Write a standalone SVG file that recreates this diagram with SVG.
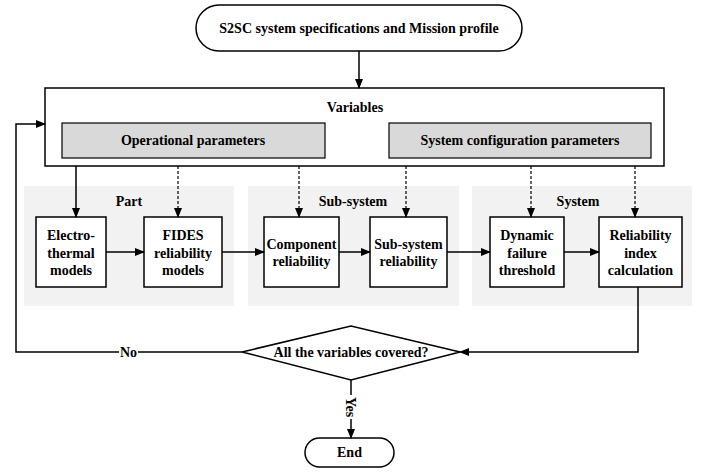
<svg xmlns="http://www.w3.org/2000/svg" width="712" height="472" viewBox="0 0 712 472">
<defs>
<marker id="ah" markerWidth="10" markerHeight="8" refX="9" refY="4" orient="auto" markerUnits="userSpaceOnUse">
<path d="M0,0 L10,4 L0,8 Z" fill="#000"/>
</marker>
<style>
text{font-family:"Liberation Serif","Times New Roman",serif;font-weight:bold;font-size:14px;text-anchor:middle;fill:#000}
.box{fill:#fff;stroke:#000;stroke-width:1.5}
.gray{fill:#d9d9d9;stroke:#000;stroke-width:1.2}
.panel{fill:#f2f2f2;stroke:none}
.ln{fill:none;stroke:#000;stroke-width:1.5}
.arr{fill:none;stroke:#000;stroke-width:1.5;marker-end:url(#ah)}
.dash{fill:none;stroke:#000;stroke-width:1.2;stroke-dasharray:3,2;marker-end:url(#ah)}
</style>
</defs>
<rect width="712" height="472" fill="#fff"/>
<g id="panels">
<rect id="panel-part" class="panel" x="24" y="186" width="210" height="120"/>
<text x="129" y="206">Part</text>
<rect id="panel-subsystem" class="panel" x="248" y="186" width="211" height="120"/>
<text x="353" y="206">Sub-system</text>
<rect id="panel-system" class="panel" x="472" y="186" width="220" height="120"/>
<text x="578" y="206">System</text>
</g>
<g id="start">
<rect class="box" x="196" y="5" width="326" height="46" rx="23" ry="23"/>
<text x="359" y="33">S2SC system specifications and Mission profile</text>
</g>
<g id="variables">
<rect class="box" x="45" y="88" width="619" height="78"/>
<text x="355" y="112">Variables</text>
</g>
<g id="operational">
<rect class="gray" x="62" y="123" width="263" height="35"/>
<text x="193" y="145">Operational parameters</text>
</g>
<g id="sysconfig">
<rect class="gray" x="389" y="123" width="262" height="35"/>
<text x="520" y="145">System configuration parameters</text>
</g>
<g id="electro">
<rect class="box" x="36" y="217" width="70" height="70"/>
<text x="71" y="240">Electro-</text><text x="71" y="258">thermal</text><text x="71" y="275">models</text>
</g>
<g id="fides">
<rect class="box" x="144" y="217" width="78" height="70"/>
<text x="183" y="240">FIDES</text><text x="183" y="258">reliability</text><text x="183" y="275">models</text>
</g>
<g id="component">
<rect class="box" x="264" y="217" width="75" height="70"/>
<text x="301.5" y="249">Component</text><text x="301.5" y="266">reliability</text>
</g>
<g id="subsystem">
<rect class="box" x="370" y="217" width="77" height="70"/>
<text x="408.5" y="249">Sub-system</text><text x="408.5" y="266">reliability</text>
</g>
<g id="dynamic">
<rect class="box" x="490" y="217" width="74" height="70"/>
<text x="527" y="240">Dynamic</text><text x="527" y="258">failure</text><text x="527" y="275">threshold</text>
</g>
<g id="relindex">
<rect class="box" x="599" y="217" width="83" height="70"/>
<text x="640.5" y="240">Reliability</text><text x="640.5" y="258">index</text><text x="640.5" y="275">calculation</text>
</g>
<g id="decision">
<polygon class="box" points="242,352 351,326 460,352 351,380"/>
<text x="351" y="357">All the variables covered?</text>
</g>
<g id="end">
<rect class="box" x="305" y="438" width="89" height="29" rx="14.5" ry="14.5"/>
<text x="349.5" y="457">End</text>
</g>
<g id="connectors">
<line class="arr" x1="359" y1="51" x2="359" y2="88"/>
<line class="arr" x1="76" y1="166" x2="76" y2="217"/>
<line class="dash" x1="178" y1="166" x2="178" y2="217"/>
<line class="dash" x1="299" y1="166" x2="299" y2="217"/>
<line class="dash" x1="406" y1="166" x2="406" y2="217"/>
<line class="dash" x1="531" y1="166" x2="531" y2="217"/>
<line class="dash" x1="635" y1="166" x2="635" y2="217"/>
<line class="arr" x1="106" y1="252" x2="144" y2="252"/>
<line class="arr" x1="222" y1="252" x2="264" y2="252"/>
<line class="arr" x1="339" y1="252" x2="370" y2="252"/>
<line class="arr" x1="447" y1="252" x2="490" y2="252"/>
<line class="arr" x1="564" y1="252" x2="599" y2="252"/>
<polyline class="arr" points="638,287 638,352 460,352"/>
<polyline class="arr" points="242,352 16,352 16,124 45,124"/>
<line class="arr" x1="351" y1="380" x2="351" y2="438"/>
<rect x="119" y="344" width="19" height="16" fill="#fff"/>
<text x="128.5" y="357">No</text>
<rect x="343" y="395" width="16" height="24" fill="#fff"/>
<text x="351" y="407" transform="rotate(90 351 407)" dy="5">Yes</text>
</g>
</svg>
